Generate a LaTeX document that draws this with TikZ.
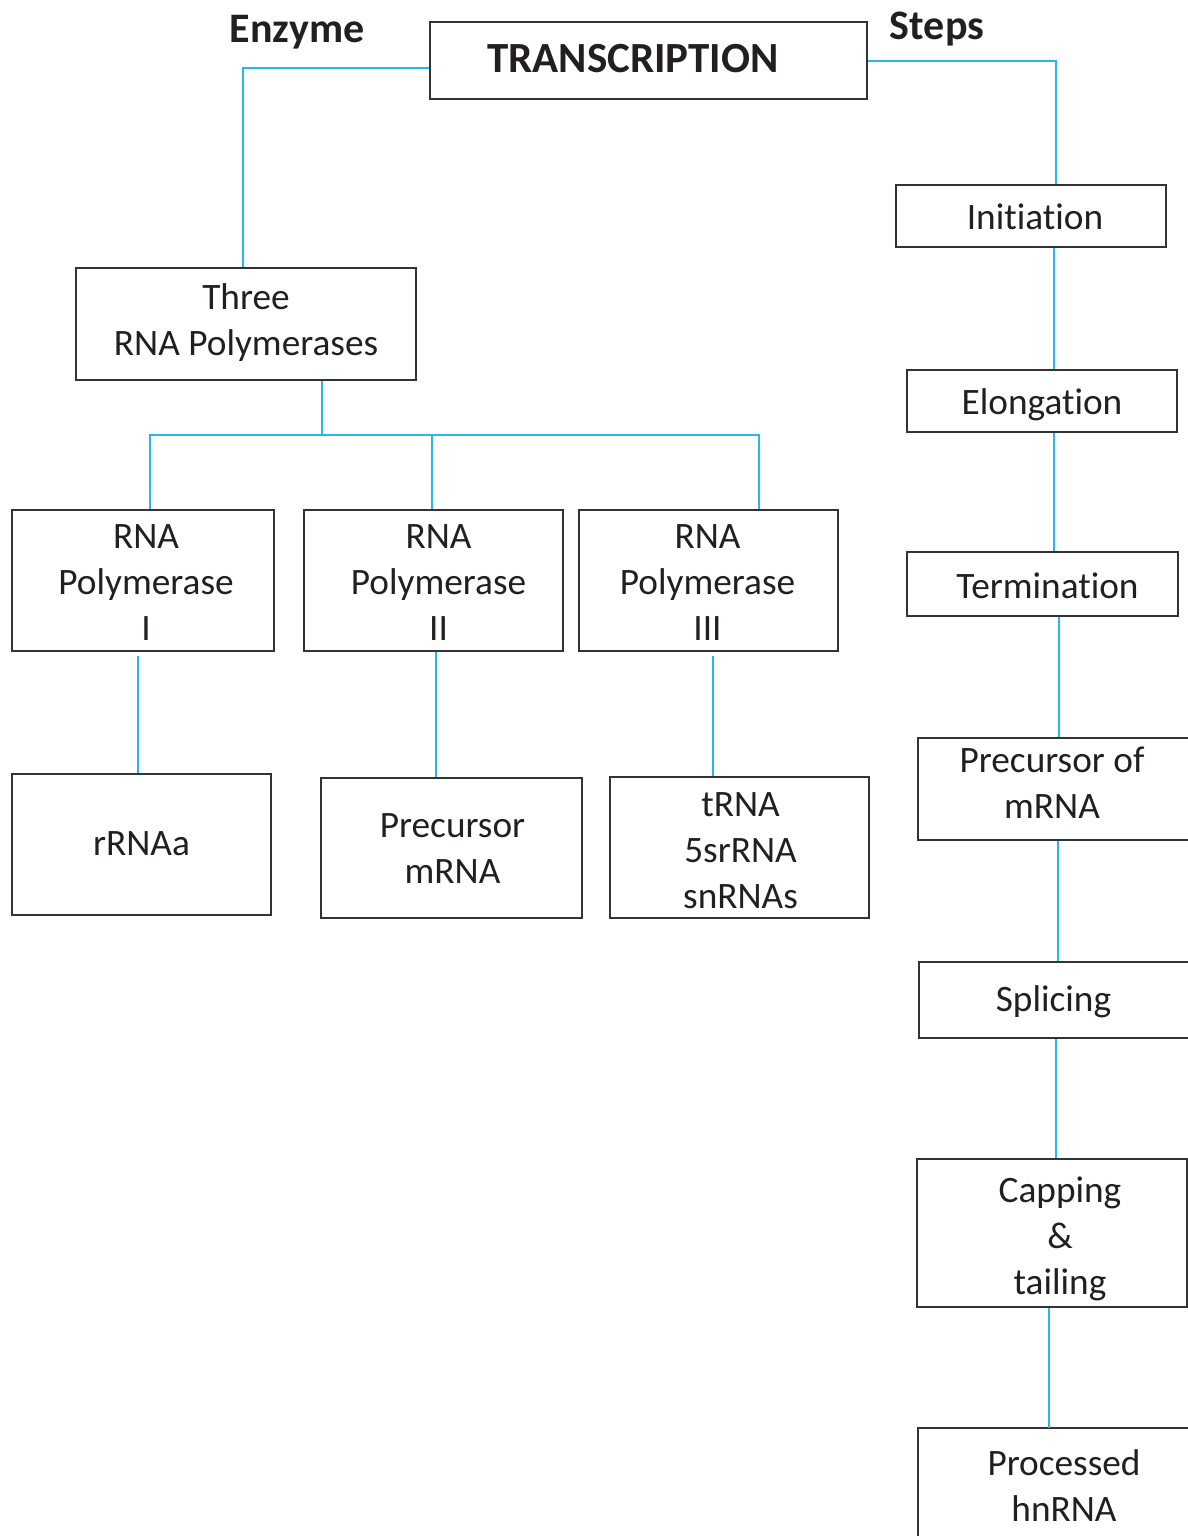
\documentclass[tikz,border=0pt]{standalone}
\usepackage{fontspec}
\setmainfont{Carlito}[Ligatures={NoCommon}]
\definecolor{conncol}{RGB}{41,182,236}
\definecolor{boxcol}{RGB}{51,51,51}
\definecolor{txtcol}{RGB}{35,31,32}
\tikzset{
  box/.style={draw=boxcol, line width=1.5pt, inner sep=0pt},
  txt/.style={inner sep=0pt, align=center, text=txtcol,
    font=\fontsize{37.3}{46}\selectfont},
  conn/.style={draw=conncol, line width=1.5pt},
  heading/.style={inner sep=0pt, anchor=base, text=txtcol,
    font=\fontsize{42}{50}\selectfont\bfseries}
}
\begin{document}
\begin{tikzpicture}[x=1pt,y=-1pt]
\useasboundingbox (0,0) rectangle (1188,1536);
\clip (0,0) rectangle (1188,1536);
% headings
\node[heading] (enz) at (297,43) {Enzyme};
\node[heading] (steps) at (937,39.5) {Steps};
% top box
\node[box, minimum width=437pt, minimum height=77pt] (trans) at (648.5,60.5) {};
\node[heading, font=\fontsize{43}{50}\selectfont\bfseries] (transtext) at (633,73) {TRANSCRIPTION};
% enzyme column boxes
\node[box, minimum width=340pt, minimum height=112pt] (three) at (246,324) {};
\node[box, minimum width=262pt, minimum height=141pt] (p1) at (143,580.5) {};
\node[box, minimum width=259pt, minimum height=141pt] (p2) at (433.5,580.5) {};
\node[box, minimum width=259pt, minimum height=141pt] (p3) at (708.5,580.5) {};
\node[box, minimum width=259pt, minimum height=141pt] (rrna) at (141.5,844.5) {};
\node[box, minimum width=261pt, minimum height=140pt] (pmrna) at (451.5,848) {};
\node[box, minimum width=259pt, minimum height=141pt] (trna) at (739.5,847.5) {};
% steps column boxes
\node[box, minimum width=270pt, minimum height=62pt] (init) at (1031,216) {};
\node[box, minimum width=270pt, minimum height=62pt] (elong) at (1042,401) {};
\node[box, minimum width=271pt, minimum height=64pt] (term) at (1042.5,584) {};
\node[box, minimum width=272pt, minimum height=102pt] (prec) at (1054,789) {};
\node[box, minimum width=271pt, minimum height=76pt] (splice) at (1054.5,1000) {};
\node[box, minimum width=270pt, minimum height=148pt] (cap) at (1052,1233) {};
\node[box, minimum width=290pt, minimum height=116pt] (proc) at (1063,1486) {};
% texts
\node[txt, yshift=1pt] (threet) at (three) {Three\\RNA Polymerases};
\node[txt, xshift=3pt, yshift=-2pt] (p1t) at (p1) {RNA\\Polymerase\\I};
\node[txt, xshift=5pt, yshift=-2pt] (p2t) at (p2) {RNA\\Polymerase\\II};
\node[txt, xshift=-1pt, yshift=-2pt] (p3t) at (p3) {RNA\\Polymerase\\III};
\node[txt, yshift=1pt] (rrnat) at (rrna) {rRNAa};
\node[txt, xshift=1pt, yshift=-1pt] (pmrnat) at (pmrna) {Precursor\\mRNA};
\node[txt, xshift=1pt, yshift=-3.5pt] (trnat) at (trna) {tRNA\\5srRNA\\snRNAs};
\node[txt, xshift=4pt, yshift=-1pt] (initt) at (init) {Initiation};
\node[txt, yshift=-4pt] (elongt) at (elong) {Elongation};
\node[txt, xshift=5pt, yshift=-2pt] (termt) at (term) {Termination};
\node[txt, xshift=-2pt, yshift=6pt] (prect) at (prec) {Precursor of\\mRNA};
\node[txt, xshift=-1pt, yshift=-2pt] (splicet) at (splice) {Splicing};
\node[txt, xshift=8pt, yshift=-6pt] (capt) at (cap) {Capping\\\&\\tailing};
\node[txt, xshift=1pt] (proct) at (proc) {Processed\\hnRNA};
% connectors: top
\draw[conn] ([yshift=-7.5pt]trans.west) -| ([xshift=-3pt]three.north);
\draw[conn] ([yshift=-0.5pt]trans.east) -| ([xshift=25pt]init.north);
% enzyme tree
\coordinate (bus) at (322,435);
\coordinate (p2top) at ([xshift=-1.5pt]p2.north);
\draw[conn] ([xshift=76pt]three.south) -- (bus);
\draw[conn] ([xshift=7pt]p1.north) |- (bus) -| ([xshift=50.5pt]p3.north);
\draw[conn] (p2top) -- (p2top |- bus);
\draw[conn] ([xshift=-5pt,yshift=-4pt]p1.south) -- ([xshift=-3.5pt]rrna.north);
\draw[conn] ([xshift=2.5pt]p2.south) -- ([xshift=-15.5pt]pmrna.north);
\draw[conn] ([xshift=4.5pt,yshift=-4pt]p3.south) -- ([xshift=-26.5pt]trna.north);
% steps chain
\draw[conn] ([xshift=23pt]init.south) -- ([xshift=12pt]elong.north);
\draw[conn] ([xshift=12pt]elong.south) -- ([xshift=11.5pt]term.north);
\draw[conn] ([xshift=16.5pt]term.south) -- ([xshift=5pt]prec.north);
\draw[conn] ([xshift=4pt]prec.south) -- ([xshift=3.5pt]splice.north);
\draw[conn] ([xshift=1.5pt]splice.south) -- ([xshift=4pt]cap.north);
\draw[conn] ([xshift=-3pt]cap.south) -- ([xshift=-14pt,yshift=-1pt]proc.north);
\end{tikzpicture}
\end{document}
